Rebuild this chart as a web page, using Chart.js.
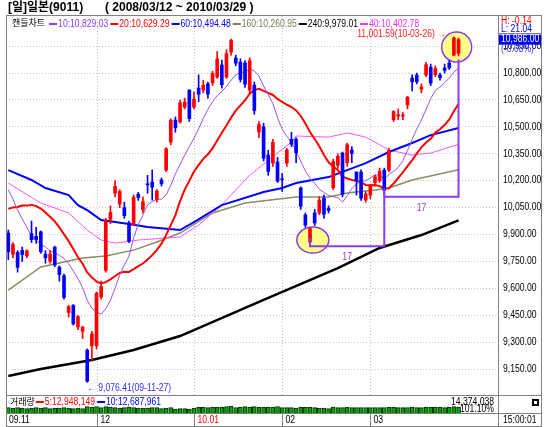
<!DOCTYPE html>
<html>
<head>
<meta charset="utf-8">
<script src="https://cdn.jsdelivr.net/npm/chart.js@4.4.1/dist/chart.umd.min.js"></script>
<style>
  html, body { margin: 0; padding: 0; background: #fff; }
  #wrap { position: relative; width: 546px; height: 427px; }
</style>
</head>
<body>
<div id="wrap"><canvas id="chart" width="546" height="427"></canvas></div>
<script>
// trading days shown (2009-11 .. 2010-03)
const dates = [
  '09-11-02','09-11-04','09-11-05','09-11-06','09-11-09','09-11-10','09-11-11','09-11-12','09-11-13','09-11-16',
  '09-11-17','09-11-18','09-11-19','09-11-20','09-11-24','09-11-25','09-11-26','09-11-27','09-11-30',
  '09-12-01','09-12-02','09-12-03','09-12-04','09-12-07','09-12-08','09-12-09','09-12-10','09-12-11','09-12-14',
  '09-12-15','09-12-16','09-12-17','09-12-18','09-12-21','09-12-22','09-12-24','09-12-25','09-12-28','09-12-29','09-12-30',
  '10-01-04','10-01-05','10-01-06','10-01-07','10-01-08','10-01-12','10-01-13','10-01-14','10-01-15','10-01-18',
  '10-01-19','10-01-20','10-01-21','10-01-22','10-01-25','10-01-26','10-01-27','10-01-28','10-01-29',
  '10-02-01','10-02-02','10-02-03','10-02-04','10-02-05','10-02-08','10-02-09','10-02-10','10-02-12','10-02-15',
  '10-02-16','10-02-17','10-02-18','10-02-19','10-02-22','10-02-23','10-02-24','10-02-25','10-02-26',
  '10-03-01','10-03-02','10-03-03','10-03-04','10-03-05','10-03-08','10-03-09','10-03-10','10-03-11','10-03-12',
  '10-03-15','10-03-16','10-03-17','10-03-18','10-03-19','10-03-23','10-03-24','10-03-25','10-03-26','10-03-29'
];
const opens = [
  9908,9790,9800,9812,9782,9905,9890,9915,9790,9752,9830,9718,9670,9465,9505,9385,9360,9255,9280,
  9280,9552,9700,9985,10130,10070,10050,9965,9955,10125,10040,10180,10192,10095,10204,10259,10415,10538,10527,10610,10705,
  10610,10717,10705,10740,10745,10778,10845,10778,10917,10884,10861,10856,10705,10733,10471,10500,10343,10298,10304,
  10210,10298,10430,10430,10160,10009,9858,10020,10020,10103,10045,10160,10285,10354,10300,10371,10248,10248,10092,
  10120,10190,10200,10259,10259,10540,10560,10560,10622,10772,10789,10710,10789,10833,10790,10789,10828,10856,10900,10910
];
const highs = [
  9925,9855,9810,9830,9815,9975,9940,9920,9810,9810,9835,9725,9680,9505,9510,9450,9390,9262,9360,
  9580,9640,9990,10060,10200,10150,10080,9975,10120,10135,10110,10230,10260,10150,10215,10385,10545,10555,10650,10660,10707,
  10695,10790,10760,10750,10810,10920,10872,10930,10990,10900,10880,10870,10885,10750,10530,10520,10370,10430,10330,
  10240,10380,10470,10440,10165,10020,9940,10040,10110,10120,10060,10320,10350,10360,10410,10390,10250,10260,10140,
  10180,10230,10270,10270,10380,10590,10600,10580,10670,10790,10800,10740,10860,10850,10840,10800,10850,10870,11002,10995
];
const lows = [
  9760,9770,9690,9750,9770,9855,9850,9795,9740,9740,9720,9640,9540,9440,9395,9370,9320,9076,9200,
  9262,9540,9690,9960,10110,10050,9990,9855,9950,10090,10020,10130,10092,10080,10170,10250,10400,10470,10520,10600,10530,
  10600,10640,10690,10660,10730,10770,10716,10770,10900,10840,10750,10720,10690,10570,10440,10310,10230,10280,10190,
  10140,10280,10390,10300,10040,9940,9836,9950,10010,9990,10020,10150,10270,10110,10280,10300,10120,10090,10080,
  10100,10170,10190,10115,10250,10530,10540,10540,10600,10700,10740,10690,10780,10730,10780,10760,10800,10820,10895,10895
];
const closes = [
  9803,9844,9717,9789,9809,9871,9872,9804,9770,9791,9730,9677,9549,9498,9402,9442,9383,9082,9346,
  9572,9609,9978,10023,10168,10140,10005,9863,10108,10106,10083,10177,10164,10142,10183,10378,10537,10495,10634,10638,10546,
  10655,10682,10731,10682,10798,10879,10735,10908,10982,10855,10765,10738,10868,10591,10513,10325,10252,10414,10198,
  10205,10371,10404,10356,10057,9952,9933,9964,10092,10013,10034,10307,10336,10124,10400,10352,10199,10102,10126,
  10172,10222,10253,10146,10369,10586,10568,10567,10665,10751,10751,10722,10847,10744,10825,10774,10815,10829,10996,10986
];
// moving averages before enough closes are on screen
const ma10Head = [10150,10097,10035,9987,9940,9891,9870,9843,9831];
const ma20Head = [10043,10051,10053,10062,10061,10065,10058,10045,10022,9999,9973,9940,9901,9863,9819,9773,9738,9688,9661];
// long averages as [day index, value]
const ma40Pts = [[0,10187],[7,10075],[13,10020],[17,9925],[20,9869],[23,9852],[28,9869],[37,9886],[41,9953],[46,10064],
  [52,10231],[61,10415],[62,10449],[69,10443],[73,10466],[77,10443],[82,10371],[87,10343],[91,10354],[97,10403]];
const ma60Pts = [[0,10259],[5,10204],[8,10159],[13,10120],[15,10064],[17,10036],[20,9981],[26,9958],[30,9942],[37,9925],
  [40,9969],[46,10064],[55,10137],[59,10159],[62,10187],[69,10220],[73,10259],[77,10298],[82,10360],[87,10410],[91,10454],[97,10494]];
const ma160Pts = [[0,9590],[7,9719],[16,9769],[21,9780],[27,9813],[32,9858],[37,9908],[44,10020],[51,10075],[62,10109],
  [69,10109],[73,10131],[79,10148],[82,10159],[87,10204],[97,10261]];
const ma240Pts = [[0,9111],[7,9150],[18,9200],[27,9256],[37,9334],[54,9524],[71,9713],[80,9825],[89,9897],[97,9979]];
// volume, millions of shares
const volumes = [
  11,10,11,10,9,10,11,10,11,9,10,10,11,10,9,10,9,13,12,
  13,11,13,12,11,10,11,12,11,10,10,10,11,11,9,10,11,8,9,9,8,
  10,12,12,11,12,12,12,13,14,11,12,13,12,13,12,12,12,12,13,
  11,11,11,10,12,12,12,11,10,10,9,12,11,11,12,11,11,11,11,
  11,11,11,11,12,12,11,11,11,12,11,11,12,12,12,12,11,12,13,12
];
const volMax = 14.374038;
const priceTicks = [9150,9300,9450,9600,9750,9900,10050,10200,10350,10500,10650,10800,10950];
const monthStarts = [0, 19, 40, 59, 78];
const monthLabels = ['09.11', '12', '10.01', '02', '03'];
const emptySlots = 8;

const legendItems = [
  ['10:10,829.03', '#8a3cf0'], ['20:10,629.29', '#ff0000'], ['60:10,494.48', '#0000ff'],
  ['160:10,260.95', '#7c7c58'], ['240:9,979.01', '#000000'], ['40:10,402.78', '#ff30ff']
];
const volLegend = [['5:12,948,149', '#ff0000'], ['10:12,687,961', '#0000ff']];

const UP = '#ff0000', DOWN = '#0000ff';
const SANS = "'Liberation Sans', sans-serif";
const KR = "'Noto Sans CJK KR', sans-serif";
const SX = 0.86; // squeeze to look like a narrow UI font

function movingAvg(head, n) {
  return closes.map((c, i) => {
    if (i < head.length) return head[i];
    let s = 0;
    for (let k = i - n + 1; k <= i; k++) s += closes[k];
    return s / n;
  });
}
function fromPoints(pts) {
  const arr = dates.map(() => null);
  pts.forEach(([i, v]) => { arr[i] = v; });
  return arr;
}
// narrow text helpers
function ntext(c, t, x, y, align) {
  c.save();
  c.translate(x, y);
  c.scale(SX, 1);
  c.textAlign = align || 'left';
  c.fillText(t, 0, 0);
  c.restore();
}
function nwidth(c, t) { return c.measureText(t).width * SX; }

const labels = dates.concat(Array(emptySlots).fill(''));
const colors = closes.map((c, i) => c >= opens[i] ? UP : DOWN);
const fmt2 = v => v.toLocaleString('en-US', { minimumFractionDigits: 2, maximumFractionDigits: 2 });

function lineSet(data, color, width, order) {
  return { type: 'line', data, borderColor: color, borderWidth: width, pointRadius: 0,
    tension: 0, spanGaps: true, order, yAxisID: 'y' };
}

const decor = {
  id: 'decor',
  beforeDraw(chart) {
    const c = chart.ctx;
    c.save();
    c.fillStyle = '#fff';
    c.fillRect(0, 0, chart.width, chart.height);
    c.restore();
  },
  beforeDatasetsDraw(chart) {
    const { ctx: c, scales: { x, y }, chartArea: a } = chart;
    c.save();
    // month gridlines
    c.strokeStyle = '#c0c0c0';
    c.setLineDash([1, 2]);
    monthStarts.slice(1).forEach(i => {
      const px = Math.round(x.getPixelForValue(i)) + 0.5;
      c.beginPath(); c.moveTo(px, a.top); c.lineTo(px, a.bottom - 18); c.stroke();
    });
    c.setLineDash([]);
    // highlighted candles
    c.fillStyle = '#ffff88';
    c.strokeStyle = '#8a3cf0';
    c.lineWidth = 1.5;
    [[65.6, 9869, 16, 13], [96.6, 10945, 15, 15]].forEach(([i, v, rx, ry]) => {
      c.beginPath();
      c.ellipse(x.getPixelForValue(i), y.getPixelForValue(v), rx, ry, 0, 0, Math.PI * 2);
      c.fill(); c.stroke();
    });
    c.restore();
  },
  afterDatasetsDraw(chart) {
    const { ctx: c, scales: { x, y }, chartArea: a } = chart;
    const px = i => x.getPixelForValue(i);
    const py = v => y.getPixelForValue(v);
    c.save();
    c.textBaseline = 'middle';

    // cycle lines (17 days each)
    c.strokeStyle = '#8a3cf0';
    c.lineWidth = 2;
    c.beginPath();
    c.moveTo(px(65), py(9880)); c.lineTo(px(65), py(9835)); c.lineTo(px(81), py(9835)); c.lineTo(px(81), py(10158));
    c.moveTo(px(81), py(10110)); c.lineTo(px(97), py(10110)); c.lineTo(px(97), py(10875));
    c.stroke();
    c.fillStyle = '#8a3cf0';
    c.font = '10px ' + SANS;
    ntext(c, '17', (px(65) + px(81)) / 2, py(9835) + 11, 'center');
    ntext(c, '17', (px(81) + px(97)) / 2, py(10110) + 11, 'center');

    // high / low notes
    c.fillStyle = '#ff2020';
    ntext(c, '11,001.59(10-03-26) \u2192', px(96) - 8, py(11001.59) - 3, 'right');
    c.fillStyle = '#3030ff';
    ntext(c, '\u2190 9,076.41(09-11-27)', px(17), py(9076.41) + 6, 'left');

    // frame
    c.strokeStyle = '#808080';
    c.lineWidth = 1;
    c.strokeRect(6.5, 15.5, 535, 411);
    c.beginPath();
    c.moveTo(498.5, 15); c.lineTo(498.5, 427);
    c.moveTo(6, a.bottom - 17.5); c.lineTo(542, a.bottom - 17.5);
    c.moveTo(6, a.bottom + 0.5); c.lineTo(542, a.bottom + 0.5);
    c.moveTo(498, 33.5); c.lineTo(542, 33.5);
    c.stroke();

    // price tick labels
    c.fillStyle = '#000';
    y.ticks.forEach(t => ntext(c, fmt2(t.value), 503, py(t.value), 'left'));

    // title
    c.textAlign = 'left';
    c.font = "bold 12px 'Liberation Sans', 'Noto Sans CJK KR', sans-serif";
    c.fillText('[일]일본(9011)', 8, 8);
    c.fillText('( 2008/03/12 ~ 2010/03/29 )', 105, 8);

    // MA legend
    c.font = '9px ' + KR;
    c.fillText('캔들차트', 12, 23);
    let lx = 12 + c.measureText('캔들차트').width + 4;
    c.font = '10px ' + SANS;
    legendItems.forEach(([t, col]) => {
      c.fillStyle = col; c.fillRect(lx, 23, 8, 2);
      ntext(c, t, lx + 9, 24);
      lx += 9 + nwidth(c, t) + 2;
    });

    // volume legend
    c.fillStyle = '#000';
    c.font = '9px ' + KR;
    c.fillText('거래량', 10, a.bottom - 11);
    let vx = 10 + c.measureText('거래량').width + 1;
    c.font = '10px ' + SANS;
    volLegend.forEach(([t, col]) => {
      c.fillStyle = col; c.fillRect(vx, a.bottom - 12, 8, 2);
      ntext(c, t, vx + 9, a.bottom - 11);
      vx += 9 + nwidth(c, t) + 2;
    });
    c.fillStyle = '#000';
    ntext(c, '14,374,038', 494, a.bottom - 11, 'right');
    ntext(c, '101.10%', 494, a.bottom - 4, 'right');
    c.fillRect(532, a.bottom - 14, 7, 7);
    c.fillStyle = '#fff';
    c.fillRect(534, a.bottom - 12, 3, 3);

    // x labels
    c.strokeStyle = '#808080';
    monthStarts.forEach((i, k) => {
      const mx = k === 0 ? 6 : Math.round(px(i)) + 0.5;
      if (k > 0) { c.beginPath(); c.moveTo(mx, a.bottom); c.lineTo(mx, 427); c.stroke(); }
      c.fillStyle = monthLabels[k] === '10.01' ? '#ff0000' : '#000';
      ntext(c, monthLabels[k], mx + 3, a.bottom + 7, 'left');
    });
    c.fillStyle = '#000';
    ntext(c, '15:00:01', 503, a.bottom + 7, 'left');

    // H / L box and current price
    c.fillStyle = '#ff0000';
    ntext(c, 'H: -0.14', 501, 21);
    c.fillStyle = '#0000ff';
    ntext(c, 'L: 21.04', 501, 29);
    const last = closes[closes.length - 1];
    const ly = py(last);
    c.fillStyle = '#0000ff';
    c.fillRect(499, ly - 5, 42, 10);
    c.fillStyle = '#fff';
    ntext(c, fmt2(last), 501, ly);
    c.fillStyle = '#3030ff';
    ntext(c, '(-0.08%)', 501, ly + 10);
    c.restore();
  }
};

new Chart(document.getElementById('chart'), {
  data: {
    labels,
    datasets: [
      { type: 'bar', data: opens.map((o, i) => [o, closes[i]]), backgroundColor: colors,
        barThickness: 3, minBarLength: 1, grouped: false, order: 0, yAxisID: 'y' },
      { type: 'bar', data: lows.map((l, i) => [l, highs[i]]), backgroundColor: colors,
        barThickness: 1, grouped: false, order: 1, yAxisID: 'y' },
      lineSet(movingAvg(ma10Head, 10), '#9955ee', 1, 2),
      lineSet(movingAvg(ma20Head, 20), '#ff0000', 2, 3),
      lineSet(fromPoints(ma60Pts), '#0000ff', 2, 4),
      lineSet(fromPoints(ma40Pts), '#ff55ff', 1, 5),
      lineSet(fromPoints(ma160Pts), '#8c8c64', 1.5, 6),
      lineSet(fromPoints(ma240Pts), '#000000', 2.5, 7),
      { type: 'bar', data: volumes, backgroundColor: '#00a000', borderColor: '#003000', borderWidth: 1,
        barThickness: 4, grouped: false, order: 8, yAxisID: 'yv' }
    ]
  },
  options: {
    responsive: false,
    animation: false,
    events: [],
    layout: { padding: { left: 6, top: 16, right: 5, bottom: 14 } },
    plugins: { legend: { display: false }, tooltip: { enabled: false } },
    scales: {
      x: { type: 'category', offset: true, display: false },
      y: {
        position: 'right', min: 8905, max: 11118,
        afterBuildTicks: s => { s.ticks = priceTicks.map(v => ({ value: v })); },
        afterFit: s => { s.width = 43; },
        grid: { color: '#c8c8c8', drawTicks: false },
        border: { display: false, dash: [1, 2] },
        ticks: { display: false }
      },
      yv: { display: false, min: 0, max: volMax * 397 / 7 }
    }
  },
  plugins: [decor]
});
</script>
</body>
</html>
